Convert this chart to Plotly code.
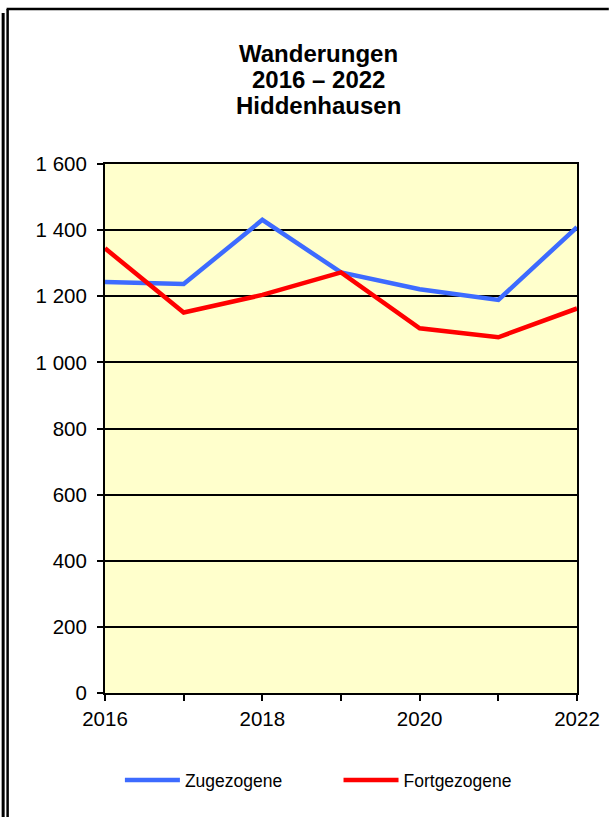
import plotly.graph_objects as go

years = [2016, 2017, 2018, 2019, 2020, 2021, 2022]
zugezogene = [1243, 1237, 1431, 1272, 1221, 1189, 1409]
fortgezogene = [1345, 1151, 1204, 1272, 1103, 1076, 1163]
y_ticks = [0, 200, 400, 600, 800, 1000, 1200, 1400, 1600]
y_labels = ["0", "200", "400", "600", "800", "1 000", "1 200", "1 400", "1 600"]
x_labels = ["2016", "", "2018", "", "2020", "", "2022"]
title_lines = ["Wanderungen", "2016 – 2022", "Hiddenhausen"]

W, H = 612, 817
L, R, T, B = 105, 32, 164, 124
pw, ph = W - L - R, H - T - B

def px(x):
    return (x - L) / pw

def py(y):
    return (H - B - y) / ph

fig = go.Figure()
fig.add_trace(go.Scatter(x=years, y=zugezogene, mode="lines", name="Zugezogene",
                         line=dict(color="#3D6BFF", width=4.5), legend="legend",
                         showlegend=True))
fig.add_trace(go.Scatter(x=years, y=fortgezogene, mode="lines", name="Fortgezogene",
                         line=dict(color="#FF0000", width=4.5), legend="legend2",
                         showlegend=True))

shapes = [
    dict(type="line", xref="paper", yref="paper", x0=px(2.5), x1=px(2.5), y0=py(13), y1=py(817),
         line=dict(color="black", width=3)),
    dict(type="line", xref="paper", yref="paper", x0=px(7), x1=px(7), y0=py(9), y1=py(817),
         line=dict(color="black", width=2.5)),
    dict(type="line", xref="paper", yref="paper", x0=px(6), x1=px(612), y0=py(9), y1=py(9),
         line=dict(color="black", width=2.5)),
]

annotations = []
for i, txt in enumerate(title_lines):
    annotations.append(dict(text="<b>%s</b>" % txt, xref="paper", yref="paper",
                            x=px(320), y=py(53.5 + 26 * i), xanchor="center", yanchor="middle",
                            showarrow=False, font=dict(size=24)))

legend_common = dict(orientation="h", yanchor="middle", font=dict(size=17.5),
                     itemwidth=55, bgcolor="rgba(0,0,0,0)", visible=True)

fig.update_layout(
    width=W, height=H,
    showlegend=True,
    margin=dict(l=L, r=R, t=T, b=B),
    paper_bgcolor="white",
    plot_bgcolor="#FFFFCC",
    font=dict(family="Liberation Sans, Arial, sans-serif", color="black", size=20.5),
    xaxis=dict(range=[2016, 2022], tickvals=years, ticktext=x_labels,
               showgrid=False, zeroline=False, showline=True, linecolor="black", linewidth=2,
               mirror=True, ticks="outside", ticklen=6, tickcolor="black", tickwidth=2),
    yaxis=dict(range=[0, 1600], tickvals=y_ticks, ticktext=y_labels,
               showgrid=True, gridcolor="black", gridwidth=2, zeroline=False,
               showline=True, linecolor="black", linewidth=2, mirror=True,
               ticks="outside", ticklen=6, tickcolor="black", tickwidth=2,
               ticklabelstandoff=6),
    legend=dict(x=px(120), xanchor="left", y=py(780), **legend_common),
    legend2=dict(x=px(340), xanchor="left", y=py(780), **legend_common),
    shapes=shapes,
    annotations=annotations,
)

fig.write_html("out.html", config={"displayModeBar": False},
               post_script="document.body.style.margin='0';")
